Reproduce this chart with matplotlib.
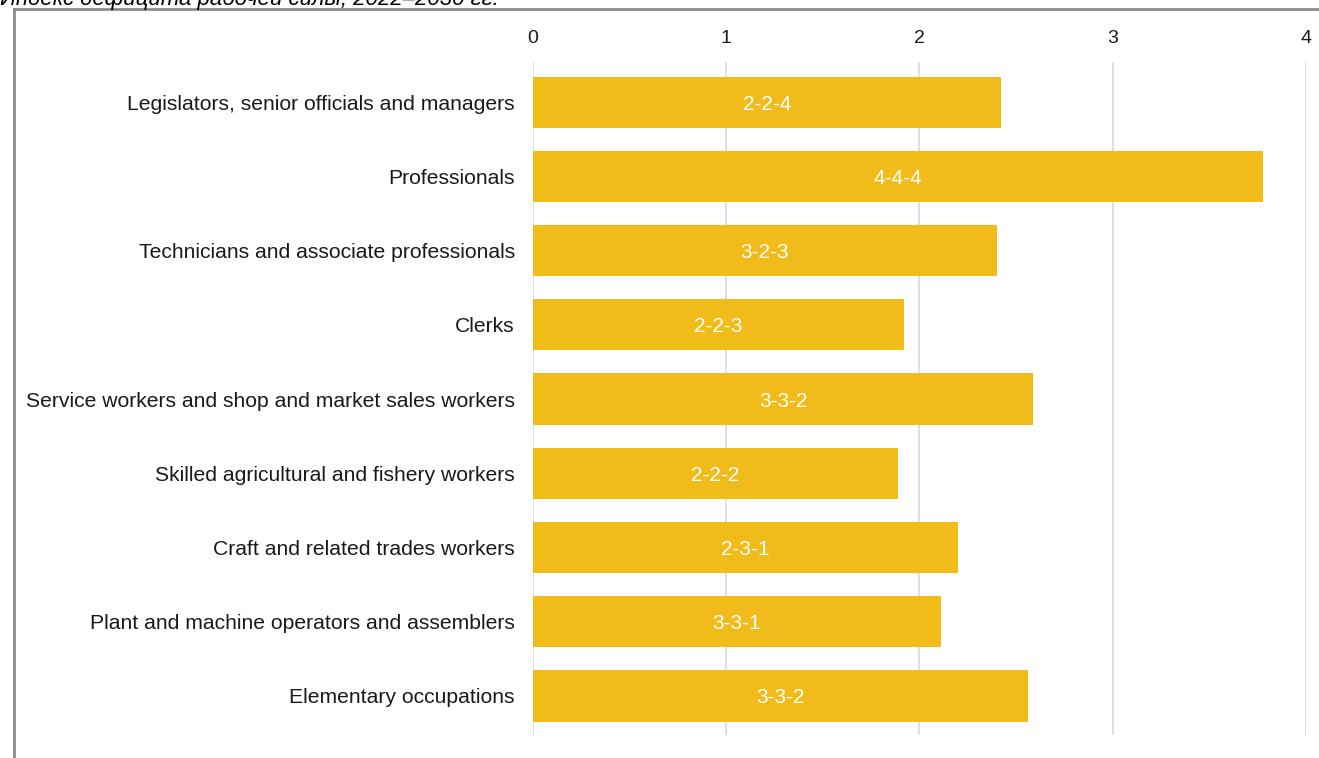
import matplotlib.pyplot as plt
from matplotlib.lines import Line2D

plt.rcParams['font.family'] = ['Liberation Sans', 'DejaVu Sans']

# occupations, top to bottom
categories = [
    'Legislators, senior officials and managers',
    'Professionals',
    'Technicians and associate professionals',
    'Clerks',
    'Service workers and shop and market sales workers',
    'Skilled agricultural and fishery workers',
    'Craft and related trades workers',
    'Plant and machine operators and assemblers',
    'Elementary occupations',
]
values = [2.42, 3.78, 2.40, 1.92, 2.59, 1.89, 2.20, 2.11, 2.56]
bar_labels = ['2-2-4', '4-4-4', '3-2-3', '2-2-3', '3-3-2', '2-2-2', '2-3-1', '3-3-1', '3-3-2']
x_ticks = [0, 1, 2, 3, 4]

bar_color = '#F1BC1A'

fig = plt.figure(figsize=(13.19, 7.58), dpi=100)
ax = fig.add_axes([0.404, 0.030, 0.586, 0.888])

ypos = list(range(len(categories)))
bars = ax.barh(ypos, values, height=0.69, color=bar_color, zorder=2)
for b, lab in zip(bars, bar_labels):
    ax.text(b.get_width() / 2, b.get_y() + b.get_height() / 2, lab,
            ha='center', va='center_baseline', color='white', fontsize=15)

ax.set_xlim(0, 4)
ax.set_ylim(len(categories) - 0.47, -0.54)
ax.set_xticks(x_ticks)
ax.set_yticks(ypos)
ax.set_yticklabels(categories, fontsize=15.2, color='#1a1a1a')
ax.xaxis.tick_top()
ax.tick_params(axis='x', length=0, labelsize=14, pad=11, labelcolor='#1a1a1a')
ax.tick_params(axis='y', length=0, pad=13)
ax.grid(True, axis='x', color='#D9D9D9', linewidth=1.2, zorder=0)
for s in ax.spines.values():
    s.set_visible(False)

# frame of the chart box, cut at the top
fig.add_artist(Line2D([0.0106, 0.0106], [0.0, 0.988], color='#8C8C8C', lw=2, transform=fig.transFigure))
fig.add_artist(Line2D([0.0106, 1.0], [0.988, 0.988], color='#8C8C8C', lw=2, transform=fig.transFigure))

# partly cropped caption
fig.text(0.0, 0.9934, 'Индекс дефицита рабочей силы, 2022–2030 гг.',
         fontsize=16, style='italic', ha='left', va='baseline')

fig.savefig('out.png', dpi=100)
